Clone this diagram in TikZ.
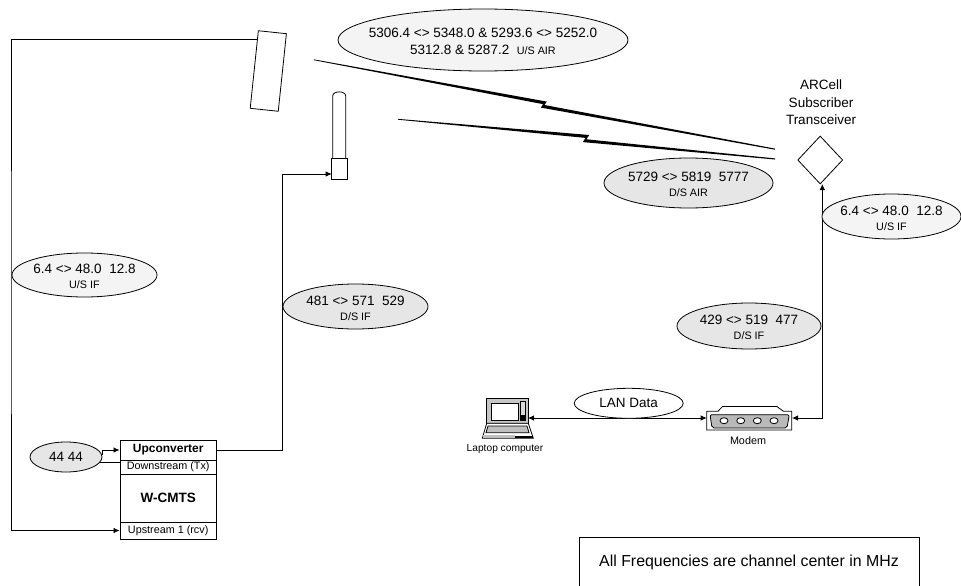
\documentclass[tikz,border=0pt]{standalone}
\usepackage{fontspec}
\setmainfont{Liberation Sans}
\usepackage{tikz}
\usetikzlibrary{arrows.meta,positioning,calc,shapes.geometric}
\definecolor{usfill}{HTML}{F4F4F4}
\definecolor{dsfill}{HTML}{E6E6E6}
\newcommand{\bigtxt}{\fontsize{13.5}{17.7}\selectfont}
\newcommand{\smalltxt}{\fontsize{10.8}{13}\selectfont}
\tikzset{
  freq/.style    = {draw, ellipse, inner sep=0pt},
  usfreq/.style  = {freq, fill=usfill},
  dsfreq/.style  = {freq, fill=dsfill},
  frqlbl/.style  = {inner sep=0pt, align=center, font=\bigtxt, yshift=-1.5pt},
  cmtsbox/.style = {draw, thick, rectangle, inner sep=0pt, minimum width=96.5pt, align=center},
  sig/.style     = {-{Latex[length=6pt,width=5.5pt]}},
  sigboth/.style = {{Latex[length=6pt,width=5.5pt]}-{Latex[length=6pt,width=5.5pt]}},
  lbl/.style     = {inner sep=0pt, align=center},
}
\begin{document}
\begin{tikzpicture}[x=1pt,y=-1pt,line width=0.8pt]
\useasboundingbox (0,0) rectangle (961,586);
\node[cmtsbox,minimum height=20pt,font=\fontsize{12}{14}\selectfont\bfseries] (upconv) at (168.2,450) {Upconverter};
\node[cmtsbox,minimum height=14pt,font=\fontsize{10.8}{12}\selectfont] (dstream) at (168.2,467) {Downstream (Tx)};
\node[cmtsbox,minimum height=48pt,font=\fontsize{13.5}{14}\selectfont\bfseries] (wcmts) at (168.2,498) {W-CMTS};
\node[cmtsbox,minimum height=17pt,font=\fontsize{10.8}{12}\selectfont] (ustream) at (168.2,530.5) {Upstream 1 (rcv)};
\node[draw,thick,rectangle,inner sep=0pt,minimum width=28.2pt,minimum height=78pt,rotate=-6] (panel) at (268.3,71) {};
\coordinate (panelfeed) at (257,39);
\coordinate (leftbus) at (11,300);
\draw[sig] (panelfeed) -| (leftbus) |- (ustream.west);
\draw[thick] (332.7,158.3) -- (332.7,96) .. controls (332.7,90.5) and (345.7,90.5) .. (345.7,96) -- (345.7,158.3);
\node[draw,thick,rectangle,inner sep=0pt,minimum width=15.6pt,minimum height=21pt] (antbox) at (339.5,168.8) {};
\coordinate (antfeed) at (331.7,174);
\coordinate (dsriser) at (282.7,300);
\draw[sig] (upconv.east) -| (dsriser) |- (antfeed);
\fill (314,59.4) -- (546.8,101.6) -- (544.4,105) -- (775,148.6) -- (775,149.7) -- (540.8,107.6) -- (543.2,104.2) -- (314,60.2) -- cycle;
\fill (398,118.9) -- (589.2,135) -- (586.4,139.3) -- (775,158.4) -- (775,159.5) -- (582.8,142.1) -- (585.6,137.9) -- (398,119.7) -- cycle;
\node[draw,thick,diamond,inner sep=0pt,minimum width=45pt,minimum height=48pt] (xcvr) at (820.2,160) {};
\node[lbl,font=\bigtxt] (xcvrlbl) at (821,102.3) {ARCell\\Subscriber\\Transceiver};
\coordinate (xcvrport) at (822.3,184);
\coordinate (modemleft) at (706.7,418);
\coordinate (modemright) at (792,418);
\coordinate (laptopport) at (528,418);
\draw[sigboth] (xcvrport) |- (modemright);
\draw[sigboth] (laptopport) -- (modemleft);
\draw[thick,fill=white] (706.7,411.2) -- (718,411.2) -- (722.7,406.4) -- (776.7,406.4) -- (783.3,411.2) -- (791.7,411.2) -- (791.7,430) -- (706.7,430) -- cycle;
\draw[fill=gray!55,rounded corners=2pt] (710,414.7) -- (789.3,414.7) -- (787,428) -- (712,428) -- cycle;
\foreach \px in {724,740.7,757.3,774}
  \draw[fill=white] (\px,420.7) ellipse (4 and 3);
\node[lbl,font=\smalltxt] (modemlbl) at (748,441) {Modem};
\fill[gray!45] (486.7,398.3) rectangle (528.3,423.3);
\draw[thick] (486.7,398.3) rectangle (528.3,423.3);
\draw[fill=white] (491.7,403.3) rectangle (518.3,420);
\draw[fill=gray!30] (520,401.5) rectangle (525,420);
\fill (520.5,415) rectangle (524.5,419.6);
\draw[thick,fill=white] (486.7,423.3) -- (528.3,423.3) -- (533.3,438.3) -- (482.3,438.3) -- cycle;
\draw[fill=gray!50] (488,426) -- (527,426) -- (529,432.7) -- (486,432.7) -- cycle;
\fill[gray!50] (483,435) rectangle (515,438);
\fill (515,435.5) rectangle (533,438.3);
\node[lbl,font=\fontsize{10.2}{12}\selectfont] (laptoplbl) at (505,449) {Laptop computer};
\node[usfreq,minimum width=290pt,minimum height=62pt,label={[frqlbl]center:{5306.4 <> 5348.0 \& 5293.6 <> 5252.0\\5312.8 \& 5287.2\ \ {\smalltxt U/S AIR}}}] (usair) at (483,40) {};
\node[dsfreq,minimum width=169pt,minimum height=50pt,label={[frqlbl]center:{5729 <> 5819\ \ 5777\\[-2.5pt]{\smalltxt D/S AIR}}}] (dsair) at (688.5,183) {};
\node[usfreq,minimum width=139pt,minimum height=45pt,label={[frqlbl]center:{6.4 <> 48.0\ \ 12.8\\[-2.5pt]{\smalltxt U/S IF}}}] (usifr) at (891.5,216.5) {};
\node[usfreq,minimum width=145pt,minimum height=44pt,label={[frqlbl]center:{6.4 <> 48.0\ \ 12.8\\[-2.5pt]{\smalltxt U/S IF}}}] (usifl) at (84.5,275) {};
\node[dsfreq,minimum width=145pt,minimum height=45pt,label={[frqlbl]center:{481 <> 571\ \ 529\\[-2.5pt]{\smalltxt D/S IF}}}] (dsifa) at (355.5,306.5) {};
\node[dsfreq,minimum width=144pt,minimum height=46pt,label={[frqlbl]center:{429 <> 519\ \ 477\\[-2.5pt]{\smalltxt D/S IF}}}] (dsifb) at (749,326) {};
\node[freq,fill=white,minimum width=109pt,minimum height=30pt,label={[frqlbl,yshift=1.5pt]center:LAN Data}] (landata) at (628.7,403.3) {};
\node[dsfreq,minimum width=72pt,minimum height=30pt,label={[frqlbl,yshift=1.5pt]center:44 44}] (ifin) at (66,457) {};
\draw[sig] (ifin.3) |- (upconv.west);
\draw (ifin.-9) -- (ifin.-9 -| dstream.west);
\node[draw,rectangle,inner sep=0pt,minimum width=340pt,minimum height=50pt,font=\fontsize{15.9}{19}\selectfont] (note) at (749,561.9) {All Frequencies are channel center in MHz};
\end{tikzpicture}
\end{document}
